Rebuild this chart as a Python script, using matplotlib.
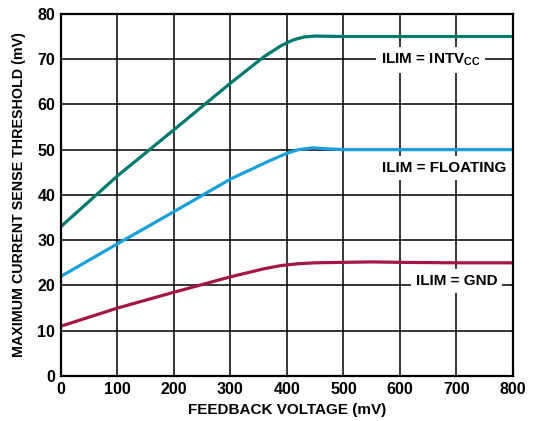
import numpy as np
import matplotlib.pyplot as plt

plt.rcParams['font.family'] = ['Liberation Sans', 'DejaVu Sans']
plt.rcParams['font.weight'] = 'bold'
plt.rcParams['mathtext.fontset'] = 'custom'
plt.rcParams['mathtext.rm'] = 'Liberation Sans:bold'
plt.rcParams['mathtext.bf'] = 'Liberation Sans:bold'

# values
fb_intv = [0, 100, 200, 300, 360, 390, 410, 430, 450, 500, 600, 700, 800]
th_intv = [33, 44.2, 54.4, 64.7, 70.6, 73.0, 74.2, 74.9, 75.1, 75.0, 75.0, 75.0, 75.0]

fb_float = [0, 100, 200, 300, 370, 400, 420, 445, 470, 500, 600, 700, 800]
th_float = [22, 29.2, 36.3, 43.5, 47.6, 49.2, 50.0, 50.4, 50.2, 50.0, 50.0, 50.0, 50.0]

fb_gnd = [0, 100, 200, 300, 360, 390, 420, 450, 500, 550, 600, 700, 800]
th_gnd = [11, 15.0, 18.5, 21.9, 23.7, 24.4, 24.8, 25.0, 25.1, 25.2, 25.1, 25.0, 25.0]

x_ticks = [0, 100, 200, 300, 400, 500, 600, 700, 800]
y_ticks = [0, 10, 20, 30, 40, 50, 60, 70, 80]

fig = plt.figure(figsize=(5.44, 4.21), dpi=100)
ax = fig.add_axes([0.112, 0.107, 0.831, 0.860])

ax.plot(fb_intv, th_intv, color='#007A6E', lw=2.3, zorder=4)
ax.plot(fb_float, th_float, color='#1AA0D8', lw=2.3, zorder=4)
ax.plot(fb_gnd, th_gnd, color='#A3164A', lw=2.3, zorder=4)

ax.set_xlim(0, 800)
ax.set_ylim(0, 80)
ax.set_xticks(x_ticks)
ax.set_yticks(y_ticks)
ax.grid(True, color='black', lw=1.1)
ax.set_axisbelow(True)
ax.tick_params(length=0, labelsize=11.5, pad=4)
for s in ax.spines.values():
    s.set_linewidth(1.6)
    s.set_zorder(5)

ax.set_xlabel('FEEDBACK VOLTAGE (mV)', fontsize=11, fontweight='bold', labelpad=5)
ax.set_ylabel('MAXIMUM CURRENT SENSE THRESHOLD (mV)', fontsize=10.3, fontweight='bold', labelpad=8)

box = dict(facecolor='white', edgecolor='none', pad=3.5)
ax.text(654, 69.8, r'ILIM = INTV$_{\mathrm{CC}}$', ha='center', va='center',
        fontsize=11, fontweight='bold', bbox=box, zorder=3)
ax.text(678, 46, 'ILIM = FLOATING', ha='center', va='center',
        fontsize=11, fontweight='bold', bbox=box, zorder=3)
ax.text(700, 21.0, 'ILIM = GND', ha='center', va='center',
        fontsize=11, fontweight='bold', bbox=box, zorder=3)

fig.savefig('out.png', dpi=100)
